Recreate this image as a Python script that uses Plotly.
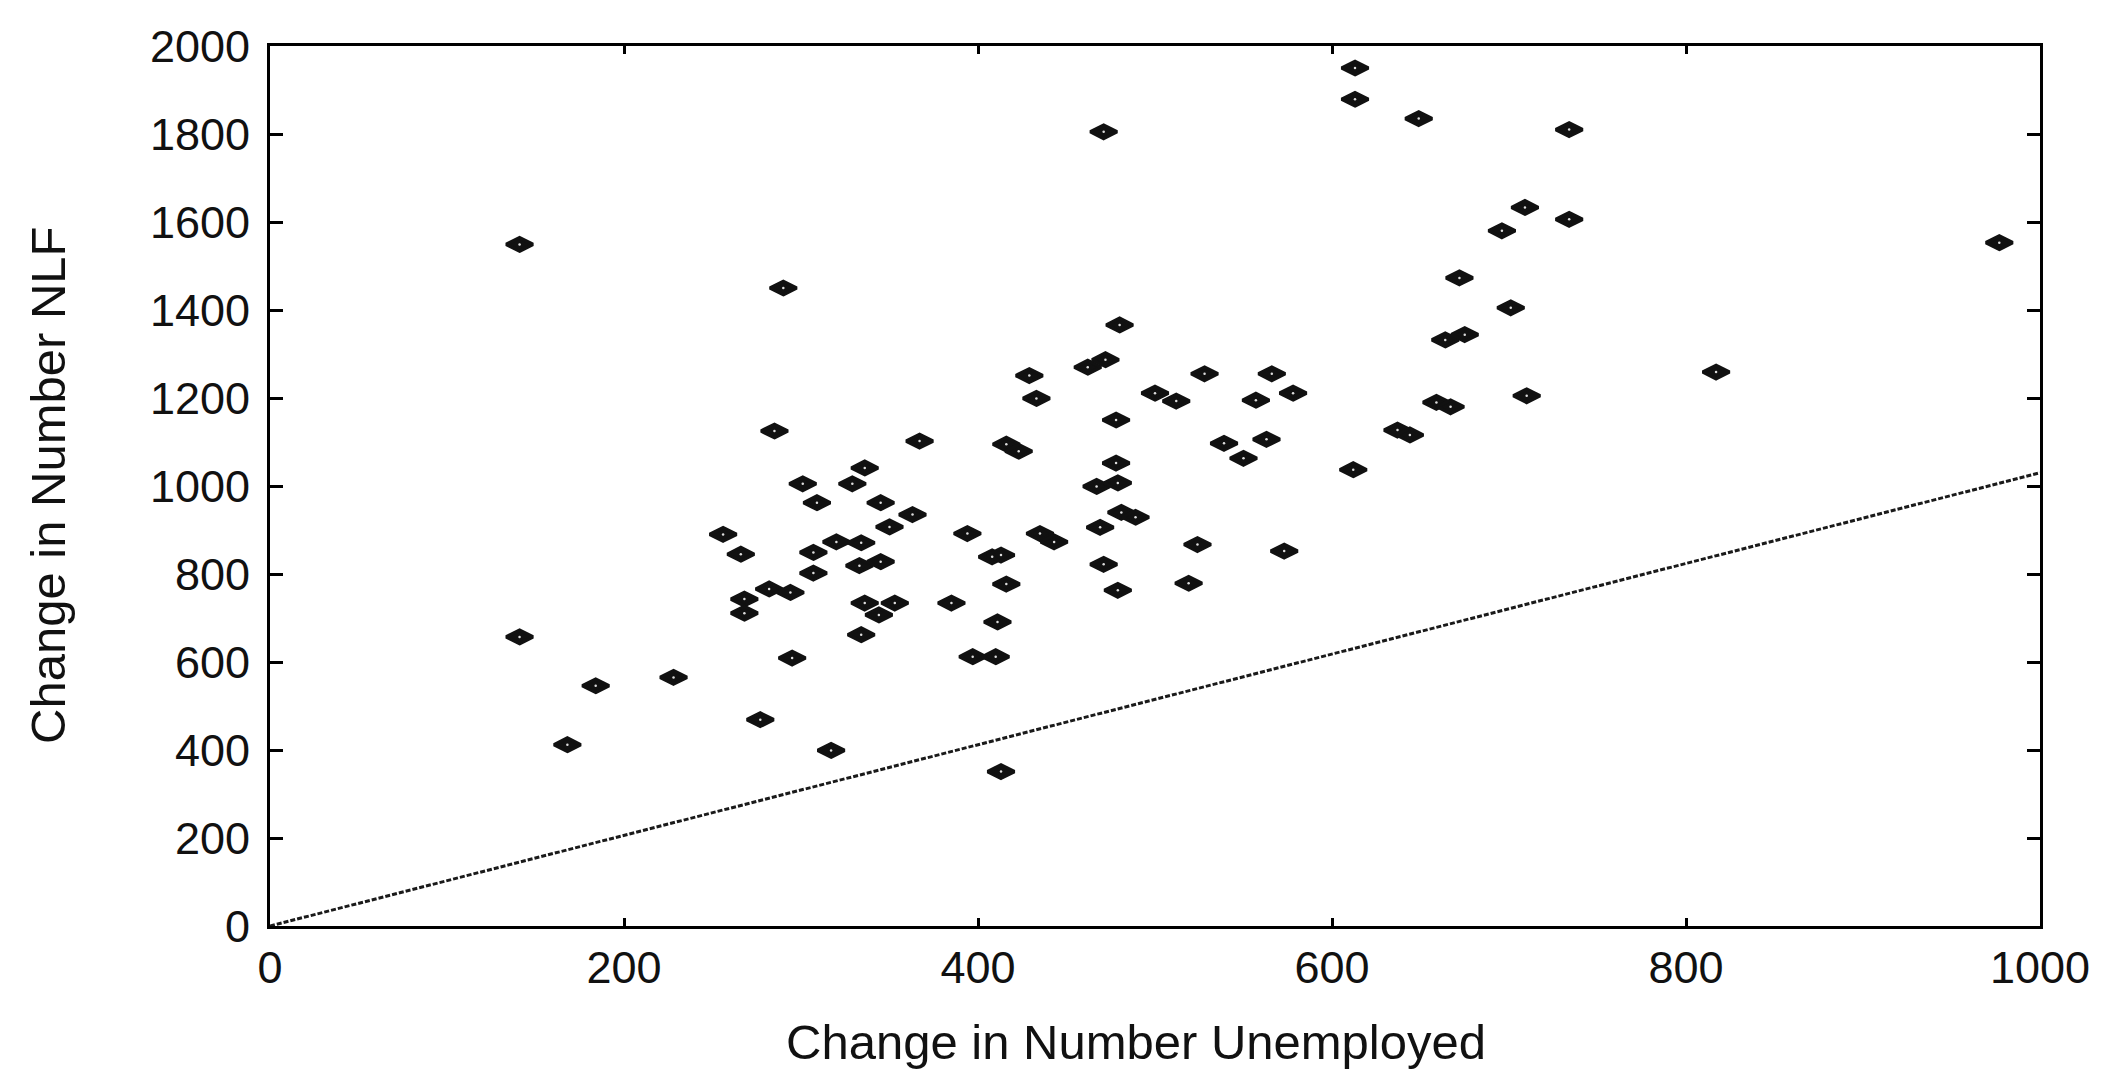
import plotly.graph_objects as go

# Change in Number Unemployed (x) and Change in Number NLF (y)
unemployed = [
    141, 141, 168, 184, 228, 256, 266, 268, 268, 282, 294, 277, 285, 290, 295,
    301, 307, 307, 309, 317, 320, 329, 334, 333, 336, 336, 334, 345, 345, 344,
    350, 353, 363, 367, 385, 394, 397, 410, 411, 408, 413, 416, 413, 416, 423,
    429, 433, 435, 443, 462, 472, 471, 480, 478, 478, 467, 479, 469, 481, 489,
    471, 479, 500, 512, 528, 566, 557, 578, 539, 563, 550, 519, 524, 573, 612,
    637, 644, 659, 667, 710, 817, 977, 613, 613, 649, 734, 709, 734, 696, 672,
    701, 664, 675,
]
nlf = [
    1549, 657, 412, 546, 565, 890, 845, 743, 711, 766, 758, 469, 1125, 1450, 609,
    1005, 849, 802, 962, 399, 873, 1005, 871, 819, 1041, 734, 662, 962, 828, 707,
    907, 734, 935, 1102, 734, 892, 612, 612, 691, 839, 843, 777, 351, 1095, 1079,
    1251, 1199, 892, 873, 1270, 1287, 1805, 1366, 1150, 1052, 999, 1007, 906, 940, 929,
    822, 763, 1211, 1193, 1255, 1255, 1195, 1211, 1097, 1106, 1063, 779, 867, 852, 1037,
    1127, 1116, 1190, 1180, 1205, 1259, 1553, 1950, 1879, 1835, 1810, 1633, 1606, 1580, 1473,
    1405, 1332, 1344,
]

# Reference line drawn in the chart
line_x = [0, 1000]
line_y = [0, 1030]

x_ticks = [0, 200, 400, 600, 800, 1000]
y_ticks = [0, 200, 400, 600, 800, 1000, 1200, 1400, 1600, 1800, 2000]

x_title = "Change in Number Unemployed"
y_title = "Change in Number NLF"

FONT = "Liberation Sans, Arial, Helvetica, sans-serif"
INK = "#111111"

fig = go.Figure()
fig.add_trace(go.Scatter(
    x=line_x, y=line_y, mode="lines",
    line=dict(color="#1a1a1a", width=3, dash="5px,2px"),
    hoverinfo="skip", showlegend=False,
))
fig.add_trace(go.Scatter(
    x=unemployed, y=nlf, mode="markers",
    marker=dict(symbol="diamond-wide", size=19, color=INK,
                line=dict(color=INK, width=3.5)),
    showlegend=False,
))
fig.add_trace(go.Scatter(
    x=unemployed, y=nlf, mode="markers",
    marker=dict(symbol="circle", size=2.5, color="#dddddd", line=dict(width=0)),
    hoverinfo="skip", showlegend=False,
))

axis_common = dict(
    showline=True, linecolor="black", linewidth=3, mirror="ticks",
    ticks="inside", tickcolor="black", tickwidth=3,
    showgrid=False, zeroline=False,
    tickfont=dict(family=FONT, size=45, color=INK),
)

fig.update_xaxes(range=[0, 1000], tickvals=x_ticks, ticklen=8, **axis_common)
fig.update_yaxes(range=[0, 2000], tickvals=y_ticks, ticklen=13,
                 ticklabelstandoff=8, **axis_common)

fig.add_annotation(
    text=x_title, xref="paper", yref="paper", x=0.489, y=0,
    xanchor="center", yanchor="middle", yshift=-116, showarrow=False,
    font=dict(family=FONT, size=49, color=INK),
)
fig.add_annotation(
    text=y_title, xref="paper", yref="paper", x=0, y=0.5,
    xanchor="center", yanchor="middle", xshift=-222, textangle=-90,
    showarrow=False, font=dict(family=FONT, size=49, color=INK),
)

fig.update_layout(
    width=2105, height=1074,
    margin=dict(l=262, r=73, t=38, b=156, autoexpand=False),
    paper_bgcolor="white", plot_bgcolor="white",
    font=dict(family=FONT),
)

fig.write_html("out.html")
